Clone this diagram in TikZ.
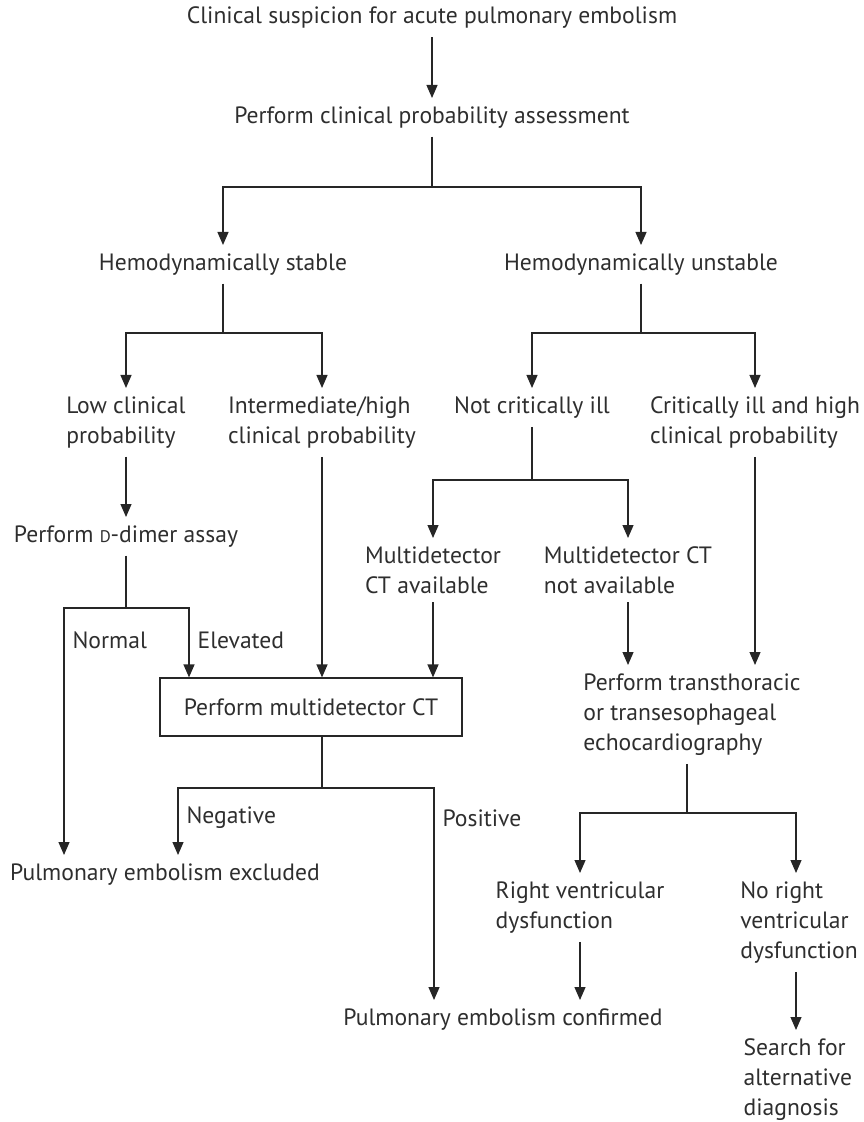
\documentclass[tikz,border=0pt]{standalone}
\usepackage{fontspec}
\setmainfont{PT Sans}
\usetikzlibrary{arrows.meta}
\tikzset{txt/.style={inner sep=4pt,align=left,text=black!82},
  ctbox/.style={txt,draw,minimum width=151pt,minimum height=29pt},
  arr/.style={-{Triangle[length=6.5pt,width=5.5pt]}}}
\newcommand{\dsc}{{\fontsize{8.4}{8.4}\selectfont D}}

\begin{document}
\begin{tikzpicture}[x=.5pt,y=-.5pt,line width=.6pt,draw=black!85,font=\fontsize{11.8}{15}\selectfont]
\useasboundingbox (0,0) rectangle (863,1122);
\node[txt] (susp) at (432,18) {Clinical suspicion for acute pulmonary embolism};
\node[txt,anchor=north] (prob) at (432,98) {Perform clinical probability assessment};
\node[txt,anchor=north] (stable) at (223,245) {Hemodynamically stable};
\node[txt,anchor=north] (unstable) at (641,245) {Hemodynamically unstable};
\node[txt,anchor=north] (low) at (126,388) {Low clinical\\probability};
\node[txt,anchor=north] (inter) at (322,388) {Intermediate/high\\clinical probability};
\node[txt,anchor=north] (notill) at (532,388) {Not critically ill};
\node[txt,anchor=north] (crit) at (755,388) {Critically ill and high\\clinical probability};
\node[txt,anchor=north] (ddimer) at (126,517) {Perform \dsc-dimer assay};
\node[txt,anchor=north] (ctav) at (433,538) {Multidetector\\CT available};
\node[txt,anchor=north] (ctna) at (628,538) {Multidetector CT\\not available};
\node[ctbox] (ct) at (311,707) {Perform multidetector CT};
\node[txt,anchor=north] (echo) at (692,665) {Perform transthoracic\\or transesophageal\\echocardiography};
\node[txt,anchor=north] (rvd) at (580,873) {Right ventricular\\dysfunction};
\node[txt,anchor=north] (norvd) at (799,873) {No right\\ventricular\\dysfunction};
\node[txt,anchor=north] (excl) at (165,855) {Pulmonary embolism excluded};
\node[txt,anchor=north] (conf) at (503,1000) {Pulmonary embolism confirmed};
\node[txt,anchor=north west] (search) at (735,1030) {Search for\\alternative\\diagnosis};
\node[txt,anchor=west] (nrm) at (64,640) {Normal};\node[txt,anchor=west] (elev) at (189,640) {Elevated};
\node[txt,anchor=west] (neg) at (178,818) {Negative};\node[txt,anchor=west] (pos) at (434,818) {Positive};
\draw[arr] (susp)--(prob);
\draw (prob)--(prob|-0,187) coordinate (j1);\draw[arr] (j1)-|(stable);\draw[arr] (j1)-|(unstable);
\draw (stable)--(stable|-0,333) coordinate (j2);\draw[arr] (j2)-|(low);\draw[arr] (j2)-|(inter);
\draw (unstable)--(unstable|-0,333) coordinate (j3);\draw[arr] (j3)-|(notill);\draw[arr] (j3)-|(crit);
\draw[arr] (low)--(ddimer);
\draw (ddimer)--(ddimer|-0,608) coordinate (j4);\draw[arr] (j4)-|(64,0|-excl.north);\draw[arr] (j4)-|(189,0|-ct.north);
\draw[arr] (inter)--(inter|-ct.north);
\draw (notill)--(notill|-0,480) coordinate (j5);\draw[arr] (j5)-|(ctav);\draw[arr] (j5)-|(ctna);
\draw[arr] (ctav)--(ctav|-ct.north);
\draw[arr] (ctna)--(ctna|-echo.north);\draw[arr] (crit)--(crit|-echo.north);
\draw (ct.south-|322,0)--(322,788) coordinate (j7);\draw[arr] (j7)-|(178,0|-excl.north);\draw[arr] (j7)-|(434,0|-conf.north);
\draw (echo.south-|687,0)--(687,813) coordinate (j6);\draw[arr] (j6)-|(rvd);\draw[arr] (j6)-|(796,0|-norvd.north);
\draw[arr] (rvd)--(rvd|-conf.north);\draw[arr] (norvd.south-|796,0)--(796,0|-search.north);
\end{tikzpicture}
\end{document}
